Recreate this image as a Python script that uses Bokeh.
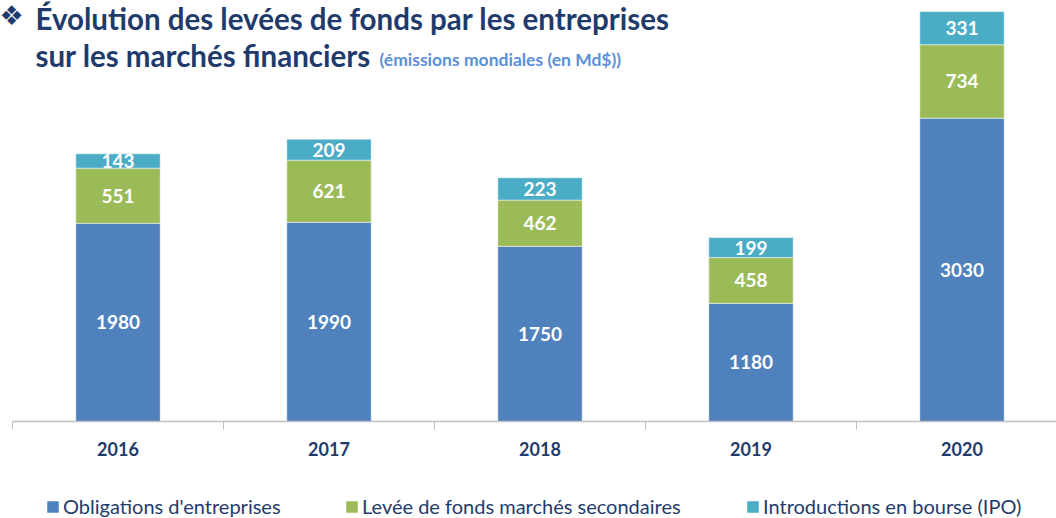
from bokeh.plotting import figure
from bokeh.models import ColumnDataSource, FixedTicker, Legend, LegendItem, Label, Range1d
from bokeh.core.properties import value
from bokeh.embed import file_html
from bokeh.resources import INLINE

years = ["2016", "2017", "2018", "2019", "2020"]
obligations = [1980, 1990, 1750, 1180, 3030]
secondaires = [551, 621, 462, 458, 734]
ipo = [143, 209, 223, 199, 331]
series_names = ["Obligations d'entreprises", "Levée de fonds marchés secondaires",
                "Introductions en bourse (IPO)"]
colors = ["#4f81bd", "#9bbb59", "#4bacc6"]

FONT = "Lato"
NAVY = "#1f3b6c"

W, H = 1056, 518
PXX = 211.0      # px per category
PXY = 0.1001     # px per unit
BASE = 421       # px of y=0
x0 = -0.5 - 12 / PXX
x1 = x0 + W / PXX
y1 = BASE / PXY
y0 = -(H - BASE) / PXY

p = figure(width=W, height=H, output_backend="svg", toolbar_location=None,
           x_range=Range1d(x0, x1), y_range=Range1d(y0, y1), title=None,
           min_border_left=0, min_border_right=0, min_border_top=0,
           min_border_bottom=0)
p.yaxis.visible = False
p.grid.visible = False
p.outline_line_color = None
p.background_fill_color = "white"
p.border_fill_color = "white"

xs = list(range(len(years)))
src = ColumnDataSource(dict(x=xs, ob=obligations, se=secondaires, ipo=ipo))
rs = p.vbar_stack(["ob", "se", "ipo"], x="x", width=0.4, color=colors, source=src,
                  line_color="white", line_width=0.5)

# data labels
lx, ly, lt = [], [], []
for i in range(len(years)):
    base = 0
    for vals in (obligations, secondaires, ipo):
        v = vals[i]
        lx.append(xs[i]); ly.append(base + v / 2); lt.append(str(v))
        base += v
p.text(x=lx, y=ly, text=lt, text_align="center", text_baseline="middle",
       text_color="white", text_font=value(FONT), text_font_style="bold",
       text_font_size="19px")

# axis drawn at y = 0
ax = p.xaxis[0]
ax.fixed_location = 0
ax.bounds = (-0.5, x1)
ax.ticker = FixedTicker(ticks=xs, minor_ticks=[i - 0.5 for i in range(len(years) + 1)])
ax.major_label_overrides = {i: y for i, y in enumerate(years)}
ax.major_tick_out = 0
ax.major_tick_in = 0
ax.minor_tick_out = 8
ax.minor_tick_in = 0
ax.minor_tick_line_color = "#c0c0c0"
ax.axis_line_color = "#c0c0c0"
ax.axis_line_width = 1.5
ax.major_label_text_font = FONT
ax.major_label_text_font_style = "bold"
ax.major_label_text_font_size = "18px"
ax.major_label_text_color = NAVY
ax.major_label_standoff = 12

# px helpers (figure px -> data)
def dx(px):
    return x0 + px / PXX

def dy(py):
    return (BASE - py) / PXY

# title
p.add_layout(Label(x=dx(-1), y=dy(15), text="❖", text_font="DejaVu Sans",
                   text_font_size="27px", text_color=NAVY, text_baseline="middle"))
p.add_layout(Label(x=dx(35), y=dy(18), text="Évolution des levées de fonds par les entreprises",
                   text_font=FONT, text_font_style="bold", text_font_size="29.5px",
                   text_color=NAVY, text_baseline="middle"))
p.add_layout(Label(x=dx(35), y=dy(55), text="sur les marchés financiers",
                   text_font=FONT, text_font_style="bold", text_font_size="29.5px",
                   text_color=NAVY, text_baseline="middle"))
p.add_layout(Label(x=dx(379), y=dy(59), text="(émissions mondiales (en Md$))",
                   text_font=FONT, text_font_style="bold", text_font_size="17.5px",
                   text_color="#5b8fd9", text_baseline="middle"))

# legends, one per item to control spacing
starts = [45, 344, 745]
for r, name, sx in zip(rs, series_names, starts):
    lg = Legend(items=[LegendItem(label=name, renderers=[r])],
                location=(sx, 0), orientation="horizontal",
                glyph_width=15, glyph_height=15, label_standoff=3, padding=0,
                margin=0, border_line_color=None, background_fill_alpha=0,
                label_text_font=FONT, label_text_font_size="20px",
                label_text_color=NAVY, label_height=20)
    p.add_layout(lg, "center")

open("out.html", "w").write(file_html(p, INLINE))
